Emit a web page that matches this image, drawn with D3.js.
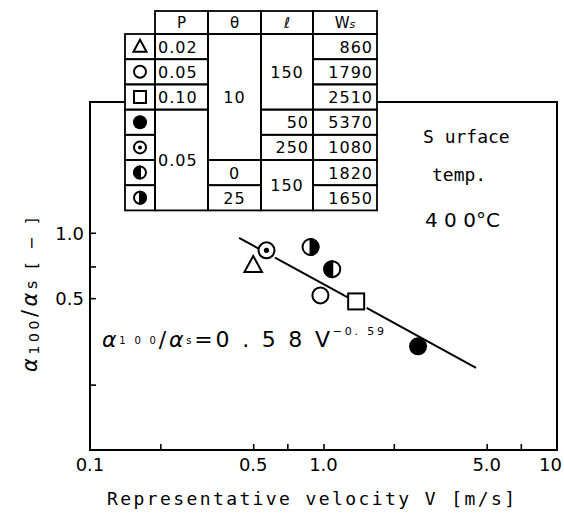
<!DOCTYPE html>
<html>
<head>
<meta charset="utf-8">
<script src="https://cdn.jsdelivr.net/npm/d3@7"></script>
<style>
  body { margin: 0; background: #fff; }
  text { fill: #000; }
</style>
</head>
<body>
<div id="chart"></div>
<script>
var svgWidth = 564;
var svgHeight = 515;

// plot frame
var frame = { left: 90, right: 557, top: 102, bottom: 450 };

// measured points: V [m/s], alpha100/alphas [-]
var markers = ["triangle", "circle", "square", "filled", "dotted", "halfLeft", "halfRight"];
var velocity = [0.50, 0.97, 1.38, 2.54, 0.57, 1.09, 0.88];
var ratio = [0.71, 0.515, 0.483, 0.30, 0.83, 0.68, 0.86];

// fitted correlation alpha100/alphas = 0.58 V^-0.59 (drawn with gaps around the symbols)
var fitCoef = 0.58;
var fitExp = -0.59;
var fitRanges = [[0.435, 0.53], [0.62, 1.27], [1.53, 4.5]];

// axis ticks
var xTicks = [0.2, 0.5, 0.7, 1, 2, 5, 7];
var xTickLabels = [[0.1, "0.1"], [0.5, "0.5"], [1, "1.0"], [5, "5.0"], [10, "10"]];
var yTicks = [0.2, 0.5, 0.7, 1];
var yTickLabels = [[0.5, "0.5"], [1, "1.0"]];

// condition table
var headers = ["P", "\u03b8", "\u2113", "Ws"];
var colP = [[0, 1, "0.02"], [1, 2, "0.05"], [2, 3, "0.10"], [3, 7, "0.05"]];
var colTheta = [[0, 5, "10"], [5, 6, "0"], [6, 7, "25"]];
var colL = [[0, 3, "150"], [3, 4, "50"], [4, 5, "250"], [5, 7, "150"]];
var colWs = ["860", "1790", "2510", "5370", "1080", "1820", "1650"];

var svg = d3.select("#chart").append("svg")
  .attr("width", svgWidth)
  .attr("height", svgHeight);

var xScale = d3.scaleLog().domain([0.1, 10]).range([frame.left, frame.right]);
var yScale = d3.scaleLog().domain([0.1, 4.0]).range([frame.bottom, frame.top]);

// frame
svg.append("rect")
  .attr("x", frame.left).attr("y", frame.top)
  .attr("width", frame.right - frame.left)
  .attr("height", frame.bottom - frame.top)
  .attr("fill", "none").attr("stroke", "#000").attr("stroke-width", 2);

// inward ticks
var bottomAxis = d3.axisTop(xScale).tickValues(xTicks).tickSize(6).tickFormat("");
svg.append("g")
  .attr("transform", `translate(0, ${frame.bottom})`)
  .call(bottomAxis)
  .call(g => g.select(".domain").remove())
  .selectAll("line").attr("stroke-width", 1.6);

var leftAxis = d3.axisRight(yScale).tickValues(yTicks).tickSize(6).tickFormat("");
svg.append("g")
  .attr("transform", `translate(${frame.left}, 0)`)
  .call(leftAxis)
  .call(g => g.select(".domain").remove())
  .selectAll("line").attr("stroke-width", 1.6);

// tick labels
svg.append("g").selectAll("text")
  .data(xTickLabels).enter().append("text")
  .attr("x", d => d[0] === 10 ? xScale(d[0]) + 5 : xScale(d[0]))
  .attr("y", 471)
  .attr("text-anchor", d => d[0] === 10 ? "end" : "middle")
  .attr("font-family", "DejaVu Sans, sans-serif")
  .attr("font-size", 18)
  .text(d => d[1]);

svg.append("g").selectAll("text")
  .data(yTickLabels).enter().append("text")
  .attr("x", frame.left - 6)
  .attr("y", d => yScale(d[0]) + 7)
  .attr("text-anchor", "end")
  .attr("font-family", "DejaVu Sans, sans-serif")
  .attr("font-size", 18)
  .text(d => d[1]);

// axis titles
svg.append("text")
  .attr("x", 107).attr("y", 505)
  .attr("textLength", 408).attr("lengthAdjust", "spacing")
  .attr("font-family", "DejaVu Sans Mono, monospace")
  .attr("font-size", 18)
  .text("Representative velocity V [m\u2215s]");

var yTitle = svg.append("text")
  .attr("transform", "translate(37, 372) rotate(-90)")
  .attr("font-family", "DejaVu Sans, sans-serif")
  .attr("font-size", 21)
  .attr("textLength", 154).attr("lengthAdjust", "spacing");
yTitle.append("tspan").attr("font-style", "italic").text("\u03b1");
yTitle.append("tspan").attr("font-size", 14).attr("dy", 2).text("100");
yTitle.append("tspan").attr("dy", -2).text("/");
yTitle.append("tspan").attr("font-style", "italic").text("\u03b1");
yTitle.append("tspan").attr("font-size", 16).text("s [ \u2212 ]");

// surface temperature note
var note = svg.append("g")
  .attr("font-family", "DejaVu Sans Mono, monospace")
  .attr("font-size", 18);
note.append("text").attr("x", 423).attr("y", 143).text("S urface");
note.append("text").attr("x", 432).attr("y", 181).text("temp.");
note.append("text").attr("x", 425).attr("y", 227)
  .attr("font-family", "DejaVu Sans, sans-serif").attr("font-size", 20)
  .text("4 0 0\u00b0C");

// fitted line
var fitLine = d3.line()
  .x(d => xScale(d))
  .y(d => yScale(fitCoef * Math.pow(d, fitExp)));
svg.append("g").selectAll("path")
  .data(fitRanges).enter().append("path")
  .attr("d", d => fitLine(d))
  .attr("fill", "none").attr("stroke", "#000").attr("stroke-width", 2);

// equation
var eq = svg.append("text")
  .attr("x", 102).attr("y", 347)
  .attr("font-family", "DejaVu Sans, sans-serif")
  .attr("font-size", 22)
  .attr("textLength", 282).attr("lengthAdjust", "spacing");
eq.append("tspan").attr("font-style", "italic").text("\u03b1");
eq.append("tspan").attr("font-size", 10).attr("dy", -3).text("1 0 0");
eq.append("tspan").attr("dy", 3).text("\u2215");
eq.append("tspan").attr("font-style", "italic").text("\u03b1");
eq.append("tspan").attr("font-size", 10).attr("dy", -3).text("s");
eq.append("tspan").attr("dy", 3).text("=0 . 5 8 V");
eq.append("tspan").attr("font-size", 11).attr("dy", -12).text("\u22120. 59");

// marker drawing
function drawMarker(g, type, r) {
  var sw = 2;
  if (type === "triangle") {
    var h = r * 1.9;
    g.append("path")
      .attr("d", `M0,${-h * 0.6}L${r * 1.1},${h * 0.45}L${-r * 1.1},${h * 0.45}Z`)
      .attr("fill", "#fff").attr("stroke", "#000").attr("stroke-width", sw);
  } else if (type === "square") {
    g.append("rect").attr("x", -r).attr("y", -r).attr("width", 2 * r).attr("height", 2 * r)
      .attr("fill", "#fff").attr("stroke", "#000").attr("stroke-width", sw);
  } else if (type === "circle") {
    g.append("circle").attr("r", r).attr("fill", "#fff").attr("stroke", "#000").attr("stroke-width", sw);
  } else if (type === "filled") {
    g.append("circle").attr("r", r + 1).attr("fill", "#000");
  } else if (type === "dotted") {
    g.append("circle").attr("r", r).attr("fill", "#fff").attr("stroke", "#000").attr("stroke-width", sw);
    g.append("circle").attr("r", r * 0.33).attr("fill", "#000");
  } else {
    var s = type === "halfLeft" ? 0 : 1;
    g.append("circle").attr("r", r).attr("fill", "#fff").attr("stroke", "#000").attr("stroke-width", sw);
    g.append("path")
      .attr("d", `M0,${-r}A${r},${r} 0 0 ${s} 0,${r}Z`)
      .attr("fill", "#000").attr("stroke", "#000").attr("stroke-width", sw);
  }
}

svg.append("g").selectAll("g")
  .data(markers).enter().append("g")
  .attr("transform", (d, i) => `translate(${xScale(velocity[i])}, ${yScale(ratio[i])})`)
  .each(function(d) { drawMarker(d3.select(this), d, 8); });

// table
var colX = [125, 155, 208, 261, 313, 377];
var tTop = 11, hBottom = 34, rowH = 25.2;
var rowY = i => hBottom + i * rowH;
var table = svg.append("g")
  .attr("font-family", "DejaVu Sans, sans-serif")
  .attr("font-size", 16);

table.append("rect")
  .attr("x", colX[0]).attr("y", hBottom)
  .attr("width", colX[5] - colX[0]).attr("height", rowY(7) - hBottom)
  .attr("fill", "#fff");
table.append("rect")
  .attr("x", colX[1]).attr("y", tTop)
  .attr("width", colX[5] - colX[1]).attr("height", hBottom - tTop)
  .attr("fill", "#fff");

function cell(x0, x1, y0, y1) {
  table.append("rect")
    .attr("x", x0).attr("y", y0).attr("width", x1 - x0).attr("height", y1 - y0)
    .attr("fill", "none").attr("stroke", "#000").attr("stroke-width", 1.8);
}

headers.forEach(function(h, i) {
  cell(colX[i + 1], colX[i + 2], tTop, hBottom);
  var t = table.append("text")
    .attr("x", (colX[i + 1] + colX[i + 2]) / 2)
    .attr("y", hBottom - 6)
    .attr("text-anchor", "middle")
    .attr("font-size", 15);
  if (h === "Ws") {
    t.append("tspan").text("W");
    t.append("tspan").attr("font-size", 11).attr("font-style", "italic").text("s");
  } else {
    t.text(h);
  }
});

markers.forEach(function(m, i) {
  cell(colX[0], colX[1], rowY(i), rowY(i + 1));
  var g = table.append("g")
    .attr("transform", `translate(${(colX[0] + colX[1]) / 2}, ${(rowY(i) + rowY(i + 1)) / 2})`);
  drawMarker(g, m, 6);
});

function column(data, ci, anchor) {
  data.forEach(function(d) {
    var y0 = rowY(d[0]), y1 = rowY(d[1]);
    cell(colX[ci], colX[ci + 1], y0, y1);
    var x = anchor === "start" ? colX[ci] + 3 : anchor === "end" ? colX[ci + 1] - 4 : (colX[ci] + colX[ci + 1]) / 2;
    if (d[1] - d[0] === 1 && anchor === "auto") {
      x = colX[ci + 1] - 4;
    }
    table.append("text")
      .attr("x", x)
      .attr("y", (y0 + y1) / 2 + 6)
      .attr("text-anchor", anchor === "auto" ? (d[1] - d[0] === 1 ? "end" : "middle") : anchor)
      .attr("letter-spacing", 1)
      .text(d[2]);
  });
}
column(colP, 1, "start");
column(colTheta, 2, "middle");
column(colL, 3, "auto");
column(colWs.map((w, i) => [i, i + 1, w]), 4, "end");
</script>
</body>
</html>
